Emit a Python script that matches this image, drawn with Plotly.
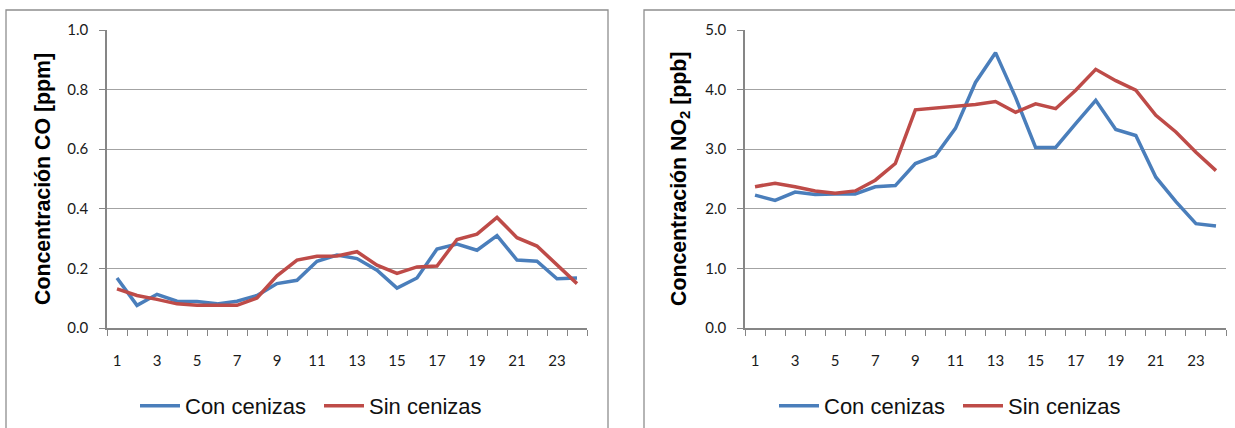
import plotly.graph_objects as go

# Hour of day (1-24)
horas = list(range(1, 25))
ticks_horas = list(range(1, 24, 2))

# Mean hourly CO concentration [ppm]
co_con_cenizas = [0.168, 0.076, 0.113, 0.090, 0.089, 0.081, 0.090, 0.109, 0.149, 0.160,
                  0.224, 0.245, 0.233, 0.194, 0.134, 0.168, 0.265, 0.282, 0.261, 0.310,
                  0.228, 0.224, 0.165, 0.168]
co_sin_cenizas = [0.131, 0.109, 0.096, 0.081, 0.076, 0.076, 0.076, 0.101, 0.175, 0.228,
                  0.241, 0.242, 0.256, 0.211, 0.183, 0.205, 0.208, 0.297, 0.315, 0.371,
                  0.303, 0.275, 0.211, 0.149]

# Mean hourly NO2 concentration [ppb]
no2_con_cenizas = [2.23, 2.14, 2.28, 2.24, 2.25, 2.25, 2.37, 2.39, 2.76, 2.89,
                   3.35, 4.12, 4.62, 3.87, 3.03, 3.03, 3.43, 3.82, 3.33, 3.23,
                   2.53, 2.12, 1.75, 1.71]
no2_sin_cenizas = [2.37, 2.43, 2.37, 2.30, 2.26, 2.30, 2.48, 2.76, 3.66, 3.69,
                   3.72, 3.75, 3.80, 3.62, 3.76, 3.68, 3.99, 4.34, 4.15, 3.99,
                   3.57, 3.29, 2.95, 2.64]

series_names = ["Con cenizas", "Sin cenizas"]
colors = ["#4A7EBB", "#BE4B48"]

W, H = 1235, 428


def fx(px):
    return px / W


def fy(px):
    return 1 - px / H


fig = go.Figure()

for i, vals in enumerate([co_con_cenizas, co_sin_cenizas]):
    fig.add_trace(go.Scatter(x=horas, y=vals, mode="lines", name=series_names[i],
                             line=dict(color=colors[i], width=3.5),
                             xaxis="x", yaxis="y", legend="legend"))
for i, vals in enumerate([no2_con_cenizas, no2_sin_cenizas]):
    fig.add_trace(go.Scatter(x=horas, y=vals, mode="lines", name=series_names[i],
                             line=dict(color=colors[i], width=3.5),
                             xaxis="x2", yaxis="y2", legend="legend2"))

tick_font = dict(family="Lato, sans-serif", size=15, color="#1a1a1a")
grid_color = "#A3A3A3"
axis_color = "#868686"

xaxis_common = dict(
    range=[0.5, 24.5], tickmode="array", tickvals=ticks_horas,
    ticktext=[str(t) for t in ticks_horas], ticks="", showgrid=False,
    showline=True, linecolor=axis_color, linewidth=1.5, zeroline=False,
    tickfont=tick_font, ticklabelstandoff=18, automargin=False,
    minor=dict(tick0=0.5, dtick=1, ticks="outside", ticklen=6, tickwidth=1.3,
               tickcolor=axis_color, showgrid=False),
    fixedrange=True,
)
yaxis_common = dict(
    showgrid=True, gridcolor=grid_color, gridwidth=1.3,
    showline=True, linecolor=axis_color, linewidth=1.5, zeroline=False,
    ticks="outside", ticklen=6, tickwidth=1.3, tickcolor=axis_color,
    tickfont=tick_font, ticklabelstandoff=8, automargin=False, fixedrange=True,
)

y_domain = [fy(328), fy(30)]
legend_font = dict(family="Liberation Sans, Arial, sans-serif", size=22, color="#111")
title_font = dict(family="Liberation Sans, Arial, sans-serif", size=21.3, color="#000")
legend_common = dict(orientation="h", xanchor="center", y=fy(406), yanchor="middle",
                     font=legend_font, bgcolor="rgba(0,0,0,0)", traceorder="normal",
                     itemwidth=40, entrywidth=129, entrywidthmode="pixels")

fig.update_layout(
    width=W, height=H, autosize=False,
    margin=dict(l=0, r=0, t=0, b=0, pad=0, autoexpand=False),
    paper_bgcolor="white", plot_bgcolor="white",
    xaxis=dict(domain=[fx(107), fx(587)], anchor="y", **xaxis_common),
    yaxis=dict(domain=y_domain, anchor="x", range=[0, 1.0], dtick=0.2,
               tickformat=".1f", **yaxis_common),
    xaxis2=dict(domain=[fx(745), fx(1226)], anchor="y2", **xaxis_common),
    yaxis2=dict(domain=y_domain, anchor="x2", range=[0, 5.0], dtick=1.0,
                tickformat=".1f", **yaxis_common),
    legend=dict(x=fx(319), **legend_common),
    legend2=dict(x=fx(958), **legend_common),
    shapes=[
        dict(type="rect", xref="paper", yref="paper", x0=fx(6), x1=fx(608),
             y0=-0.2, y1=fy(10), line=dict(color="#8E8E8E", width=1.3)),
        dict(type="rect", xref="paper", yref="paper", x0=fx(644), x1=1.2,
             y0=-0.2, y1=fy(10), line=dict(color="#8E8E8E", width=1.3)),
    ],
    annotations=[
        dict(text="<b>Concentración CO [ppm]</b>", xref="paper", yref="paper",
             x=fx(43), y=fy(179), textangle=-90, showarrow=False,
             xanchor="center", yanchor="middle", font=title_font),
        dict(text="<b>Concentración NO<sub>2</sub> [ppb]</b>", xref="paper", yref="paper",
             x=fx(680), y=fy(179), textangle=-90, showarrow=False,
             xanchor="center", yanchor="middle", font=title_font),
    ],
)

# Page body without default margin so the figure fills the window exactly
page_css = "document.body.style.margin='0';document.body.style.overflow='hidden';"
fig.write_html("out.html", post_script=page_css)
